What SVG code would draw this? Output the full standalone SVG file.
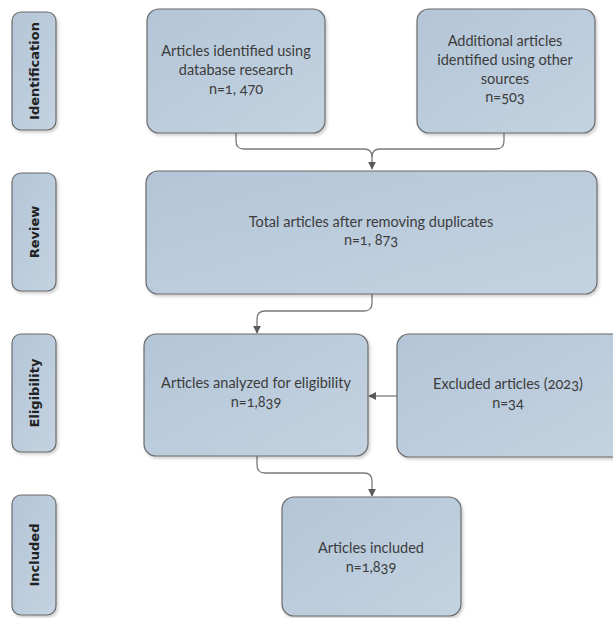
<svg xmlns="http://www.w3.org/2000/svg" width="613" height="618" viewBox="0 0 613 618">
<defs>
<linearGradient id="g" x1="0" y1="0" x2="1" y2="1">
<stop offset="0" stop-color="#b3c5d7"/>
<stop offset="1" stop-color="#c4d3e1"/>
</linearGradient>
<filter id="sh" x="-10%" y="-10%" width="125%" height="125%">
<feDropShadow dx="1.5" dy="2" stdDeviation="1.5" flood-color="#000" flood-opacity="0.2"/>
</filter>
<marker id="ah" viewBox="0 0 10 10" refX="9" refY="5" markerWidth="8" markerHeight="8" markerUnits="userSpaceOnUse" orient="auto">
<path d="M0,0 L10,5 L0,10 z" fill="#5a5a5a"/>
</marker>
<style>
.box{fill:url(#g);stroke:#6b6b6b;stroke-width:1.2;filter:url(#sh)}
.lab{fill:url(#g);stroke:#6b6b6b;stroke-width:1.2;filter:url(#sh)}
.t{font-family:Lato,"Open Sans","Liberation Sans",sans-serif;font-size:14.5px;fill:#3c3c3c;text-anchor:middle;font-variant-numeric:oldstyle-nums}
.lt{font-family:"DejaVu Sans","Liberation Sans",sans-serif;font-weight:bold;font-size:13px;fill:#222;text-anchor:middle}
.c{fill:none;stroke:#7a7a7a;stroke-width:1.3}
</style>
</defs>
<rect width="613" height="618" fill="#fff"/>

<g id="lab-identification">
<rect class="lab" x="12" y="12" width="44" height="118" rx="9"/>
<text class="lt" transform="translate(38.5,71) rotate(-90)">Identification</text>
</g>
<g id="lab-review">
<rect class="lab" x="12" y="173" width="44" height="118" rx="9"/>
<text class="lt" transform="translate(38.5,232) rotate(-90)">Review</text>
</g>
<g id="lab-eligibility">
<rect class="lab" x="12" y="334" width="44" height="118" rx="9"/>
<text class="lt" transform="translate(38.5,393) rotate(-90)">Eligibility</text>
</g>
<g id="lab-included">
<rect class="lab" x="12" y="495" width="44" height="120" rx="9"/>
<text class="lt" transform="translate(38.5,555) rotate(-90)">Included</text>
</g>

<g id="connectors">
<path class="c" d="M236,133 V141 Q236,149 244,149 H364 Q372,149 372,157 V169" marker-end="url(#ah)"/>
<path class="c" d="M504,133 V141 Q504,149 496,149 H380 Q372,149 372,157"/>
<path class="c" d="M372,294 V303 Q372,311 364,311 H265 Q257,311 257,319 V333" marker-end="url(#ah)"/>
<path class="c" d="M397,396 H369" marker-end="url(#ah)"/>
<path class="c" d="M257,456 V465 Q257,473 265,473 H364 Q372,473 372,481 V496" marker-end="url(#ah)"/>
</g>

<g id="n-database">
<rect class="box" x="147" y="9" width="178" height="124" rx="12"/>
<text class="t" x="236" y="56">Articles identified using</text>
<text class="t" x="236" y="75">database research</text>
<text class="t" x="236" y="94">n=1, 470</text>
</g>
<g id="n-other">
<rect class="box" x="417" y="9" width="178" height="124" rx="12"/>
<text class="t" x="505" y="46">Additional articles</text>
<text class="t" x="505" y="65">identified using other</text>
<text class="t" x="505" y="84">sources</text>
<text class="t" x="505" y="102">n=503</text>
</g>
<g id="n-total">
<rect class="box" x="146" y="171" width="451" height="123" rx="12"/>
<text class="t" x="371" y="227">Total articles after removing duplicates</text>
<text class="t" x="371" y="245">n=1, 873</text>
</g>
<g id="n-analyzed">
<rect class="box" x="144" y="334" width="224" height="122" rx="12"/>
<text class="t" x="256" y="388">Articles analyzed for eligibility</text>
<text class="t" x="256" y="407">n=1,839</text>
</g>
<g id="n-excluded">
<rect class="box" x="397" y="334" width="230" height="123" rx="12"/>
<text class="t" x="508" y="389">Excluded articles (2023)</text>
<text class="t" x="508" y="408">n=34</text>
</g>
<g id="n-included">
<rect class="box" x="282" y="497" width="179" height="119" rx="12"/>
<text class="t" x="371" y="553">Articles included</text>
<text class="t" x="371" y="572">n=1,839</text>
</g>
</svg>
